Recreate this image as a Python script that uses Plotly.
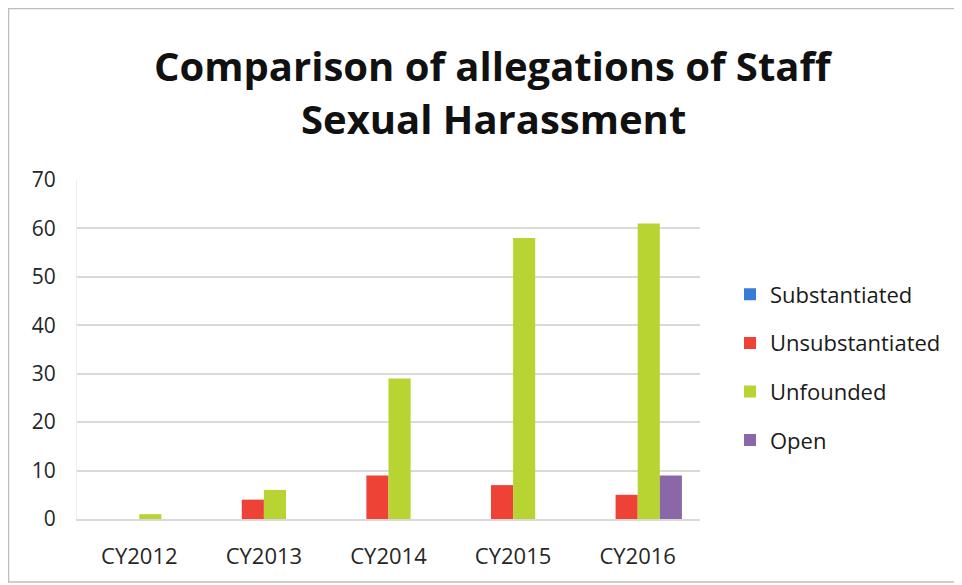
import plotly.graph_objects as go

categories = ["CY2012", "CY2013", "CY2014", "CY2015", "CY2016"]
substantiated = [0, 0, 0, 0, 0]
unsubstantiated = [0, 4, 9, 7, 5]
unfounded = [1, 6, 29, 58, 61]
open_cases = [0, 0, 0, 0, 9]

series_names = ["Substantiated", "Unsubstantiated", "Unfounded", "Open"]
series_values = [substantiated, unsubstantiated, unfounded, open_cases]
series_colors = ["#3a7bd5", "#ef4236", "#b7d432", "#8a68a8"]
title_lines = ["Comparison of allegations of Staff", "Sexual Harassment"]

FONT = "Open Sans"
# page body has an 8px margin, so the figure is sized to fit the window
W, H = 954, 577
L, R, T, B = 69, 262, 172, 66
pw = W - L - R
ph = H - T - B

fig = go.Figure()
for name, vals, col in zip(series_names, series_values, series_colors):
    fig.add_trace(go.Bar(
        x=categories, y=vals, name=name,
        marker=dict(color=col, line=dict(width=0)),
        legendgroup=name,
    ))

def py(fig_y):
    return (H - B - fig_y) / ph

fig.update_layout(
    width=W, height=H,
    margin=dict(l=L, r=R, t=T, b=B, autoexpand=False),
    paper_bgcolor="white", plot_bgcolor="white",
    barmode="group", bargap=0.29, bargroupgap=0,
    font=dict(family=FONT, size=20, color="#404040"),
    legend=dict(
        x=(722 - L) / pw, xanchor="left", y=py(359.5), yanchor="middle",
        font=dict(family=FONT, size=22, color="#1a1a1a"),
        traceorder="grouped", tracegroupgap=17,
        bgcolor="rgba(0,0,0,0)",
    ),
    showlegend=True,
    xaxis=dict(
        showgrid=False, showline=True, linecolor="#d9d9d9", linewidth=1.5,
        ticks="", tickfont=dict(family=FONT, size=22, color="#262626"),
        ticklabelstandoff=17,
    ),
    yaxis=dict(
        range=[0, 70], dtick=10, showgrid=True, gridcolor="#d9d9d9", gridwidth=1.5,
        zeroline=False, showline=True, linecolor="#ededed", ticks="",
        tickfont=dict(family=FONT, size=21, color="#262626"),
        ticklabelstandoff=16,
    ),
    annotations=[
        dict(text="<b>%s</b>" % title_lines[0], xref="paper", yref="paper",
             x=(485 - L) / pw, y=py(57), xanchor="center", yanchor="middle",
             showarrow=False, font=dict(family=FONT, size=40, color="#111111")),
        dict(text="<b>%s</b>" % title_lines[1], xref="paper", yref="paper",
             x=(485 - L) / pw, y=py(110), xanchor="center", yanchor="middle",
             showarrow=False, font=dict(family=FONT, size=40, color="#111111")),
    ],
    shapes=[dict(
        type="rect", xref="paper", yref="paper",
        x0=(0.5 - L) / pw, x1=(990 - L) / pw,
        y0=py(574), y1=py(0.5),
        line=dict(color="#bdbdbd", width=1.5), fillcolor="rgba(0,0,0,0)", layer="below",
    )],
)

fig.write_html("out.html")
